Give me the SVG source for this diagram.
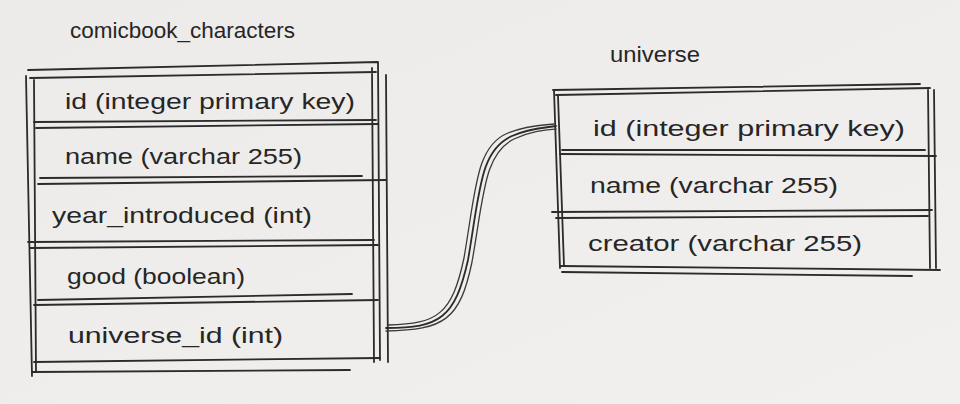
<svg xmlns="http://www.w3.org/2000/svg" width="960" height="404" viewBox="0 0 960 404">
<style>
.ln{fill:none;stroke:#2b2b2b;stroke-width:1.8;stroke-linecap:round;stroke-linejoin:round}
.ln2{fill:none;stroke:#3a3a3a;stroke-width:1.3;stroke-linecap:round}
.t{font-family:"Liberation Sans","DejaVu Sans",sans-serif;font-size:22px;fill:#262626}
</style>
<defs>
<linearGradient id="bg" x1="0" y1="0" x2="1" y2="1">
<stop offset="0" stop-color="#ecebe9"/>
<stop offset="1" stop-color="#f1f0ee"/>
</linearGradient>
</defs>
<rect width="960" height="404" fill="url(#bg)"/>

<g id="comicbook_characters">
<text class="t" x="70" y="38" textLength="225" lengthAdjust="spacingAndGlyphs">comicbook_characters</text>
<path class="ln" d="M28 70 L378 62 M30 78 L376 72 M26 76 L32 376 M34 80 L36 372 M378 62 L380 360 M372 68 L374 362 M386 75 L388 362"/>
<path class="ln" d="M36 128 L378 124 M34 122 L376 120 M38 184 L386 180 M40 178 L362 176 M30 248 L378 245 M28 242 L374 240 M34 305 L378 300 M38 300 L352 294 M34 362 L380 358 M32 372 L350 370"/>
<text class="t" x="65" y="109" textLength="290" lengthAdjust="spacingAndGlyphs">id (integer primary key)</text>
<text class="t" x="65" y="164" textLength="237" lengthAdjust="spacingAndGlyphs">name (varchar 255)</text>
<text class="t" x="52" y="223" textLength="260" lengthAdjust="spacingAndGlyphs">year_introduced (int)</text>
<text class="t" x="67" y="284" textLength="178" lengthAdjust="spacingAndGlyphs">good (boolean)</text>
<text class="t" x="68" y="343" textLength="215" lengthAdjust="spacingAndGlyphs">universe_id (int)</text>
</g>

<g id="universe">
<text class="t" x="610" y="62" textLength="90" lengthAdjust="spacingAndGlyphs">universe</text>
<path class="ln" d="M553 90 L920 84 M556 95 L930 88 M554 90 L560 268 M558 96 L564 266 M928 88 L930 268 M934 90 L936 268"/>
<path class="ln" d="M562 150 L925 150 M560 154 L936 156 M552 212 L932 210 M556 218 L928 216 M560 266 L940 270 M562 272 L912 276"/>
<text class="t" x="593" y="136" textLength="312" lengthAdjust="spacingAndGlyphs">id (integer primary key)</text>
<text class="t" x="590" y="193" textLength="248" lengthAdjust="spacingAndGlyphs">name (varchar 255)</text>
<text class="t" x="588" y="251" textLength="274" lengthAdjust="spacingAndGlyphs">creator (varchar 255)</text>
</g>

<g id="connectors">
<path class="ln" d="M386 328 C440 328 455 318 468 260 C480 190 480 150 512 136 C530 128 545 128 556 126"/>
<path class="ln2" d="M386 331 C444 330 460 320 472 262 C484 194 484 154 514 139 C532 131 545 130 556 129"/>
<path class="ln2" d="M388 325 C438 324 452 314 464 258 C476 188 476 146 508 133 C528 125 545 125 554 124"/>
</g>
</svg>
